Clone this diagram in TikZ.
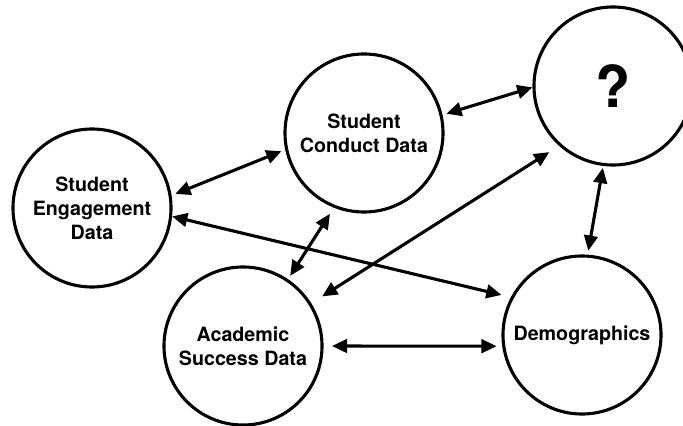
\documentclass[tikz,border=0pt]{standalone}
\usepackage{fontspec}
\setmainfont{TeX Gyre Heros}
\usetikzlibrary{arrows.meta}

\begin{document}
\begin{tikzpicture}[x=0.025cm,y=-0.025cm,
  src/.style={circle,draw,line width=2.2pt,minimum size=3.95cm,inner sep=0pt,align=center,font=\fontsize{14}{17}\selectfont\bfseries},
  tip/.style={Triangle[length=3.8mm,width=3.4mm]},
  arr/.style={{Triangle[length=3.8mm,width=3.4mm]}-{Triangle[length=3.8mm,width=3.4mm]},line width=2.2pt,shorten <=1mm,shorten >=1mm}]
\useasboundingbox (0,0) rectangle (683,426);
\node[src] (eng) at (92,208) {Student\\Engagement\\Data};
\node[src] (con) at (364,133) {Student\\Conduct Data};
\node[src,font=\fontsize{41}{41}\selectfont\bfseries] (unk) at (613,86) {?};
\node[src] (aca) at (243,346) {Academic\\Success Data};
\node[src] (dem) at (582,335) {Demographics};
\draw[arr] (eng.9) -- (con.192);
\draw[arr,shorten <=0mm,shorten >=2.4mm] (eng.-6) -- (dem.152);
\draw[arr,shorten >=0mm] (con.13) -- (unk.181);
\draw[arr,shorten <=1.8mm] (con.248) -- (aca.56);
\draw[arr,shorten <=2.9mm,shorten >=3.2mm] (unk.228) -- (aca.32);
\draw[arr,shorten <=0.5mm] (unk.263) -- (dem.86);
\draw[arr,shorten <=2.1mm,shorten >=1.4mm] (aca.0) -- (dem.188);
\end{tikzpicture}
\end{document}
